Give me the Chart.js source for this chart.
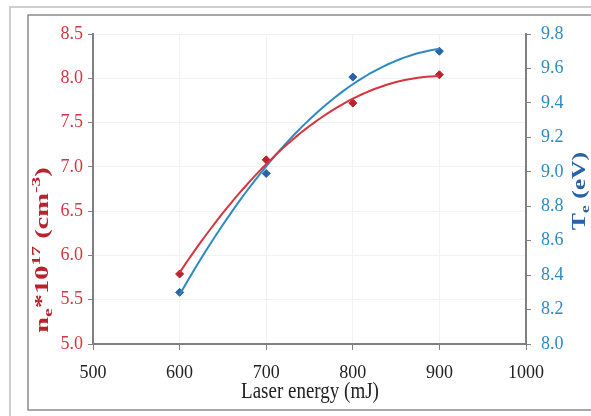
<!DOCTYPE html>
<html>
<head>
<meta charset="utf-8">
<script src="https://cdn.jsdelivr.net/npm/chart.js@4.4.1/dist/chart.umd.min.js"></script>
<style>
  html, body { margin: 0; padding: 0; background: #fff; }
  #wrap { width: 591px; height: 416px; }
</style>
</head>
<body>
<div id="wrap"><canvas id="plasmaChart" width="591" height="416"></canvas></div>
<script>
// laser energy (mJ) vs electron density and electron temperature
const energy = [600, 700, 800, 900];
const density = [5.79, 7.08, 7.72, 8.04];      // n_e * 10^17 cm^-3
const temperature = [8.30, 8.99, 9.55, 9.70];  // T_e (eV)

const densityTicks = [5.0, 5.5, 6.0, 6.5, 7.0, 7.5, 8.0, 8.5];
const tempTicks = [8.0, 8.2, 8.4, 8.6, 8.8, 9.0, 9.2, 9.4, 9.6, 9.8];
const energyTicks = [500, 600, 700, 800, 900, 1000];

const RED = '#d8343f';
const RED_DARK = '#b8232c';
const BLUE = '#2e8ac2';
const BLUE_DARK = '#2a62a8';
const SERIF = '"Liberation Serif", "Times New Roman", serif';

// 2nd order polynomial trendline (least squares), x centred for stability
function quadFit(xs, ys) {
    const u = xs.map(x => (x - 750) / 100);
    let s = [0, 0, 0, 0, 0], t = [0, 0, 0];
    u.forEach((v, i) => {
        for (let k = 0; k < 5; k++) s[k] += Math.pow(v, k);
        for (let k = 0; k < 3; k++) t[k] += ys[i] * Math.pow(v, k);
    });
    const A = [[s[0], s[1], s[2]], [s[1], s[2], s[3]], [s[2], s[3], s[4]]];
    const det = m => m[0][0] * (m[1][1] * m[2][2] - m[1][2] * m[2][1])
        - m[0][1] * (m[1][0] * m[2][2] - m[1][2] * m[2][0])
        + m[0][2] * (m[1][0] * m[2][1] - m[1][1] * m[2][0]);
    const D = det(A);
    const c = [0, 1, 2].map(j => det(A.map((row, i) => row.map((v, k) => k === j ? t[i] : v))) / D);
    return x => { const v = (x - 750) / 100; return c[0] + c[1] * v + c[2] * v * v; };
}

function trendPoints(ys) {
    const f = quadFit(energy, ys);
    const pts = [];
    for (let x = energy[0]; x <= energy[energy.length - 1]; x += 5) pts.push({ x: x, y: f(x) });
    return pts;
}

const toXY = ys => energy.map((x, i) => ({ x: x, y: ys[i] }));

// text with sub/superscripts, optionally rotated and stretched along its baseline
function drawRich(ctx, parts, cx, cy, opt) {
    const big = opt.size, small = Math.round(opt.size * 0.68);
    const font = s => (opt.bold ? 'bold ' : '') + s + 'px ' + SERIF;
    let w = 0;
    parts.forEach(p => { ctx.font = font(p[1] ? small : big); w += ctx.measureText(p[0]).width; });
    ctx.save();
    ctx.translate(cx, cy);
    ctx.rotate(opt.rot || 0);
    ctx.scale(opt.stretch || 1, opt.vstretch || 1);
    ctx.fillStyle = opt.color;
    ctx.textBaseline = 'middle';
    ctx.textAlign = 'left';
    let x = -w / 2;
    parts.forEach(p => {
        ctx.font = font(p[1] ? small : big);
        const dy = p[1] === 'sub' ? big * 0.28 : p[1] === 'sup' ? -big * 0.32 : 0;
        ctx.fillText(p[0], x, dy);
        x += ctx.measureText(p[0]).width;
    });
    ctx.restore();
}

const framePlugin = {
    id: 'frame',
    beforeDraw(chart) {
        const ctx = chart.ctx;
        ctx.save();
        ctx.fillStyle = '#fff';
        ctx.fillRect(0, 0, chart.width, chart.height);
        ctx.strokeStyle = '#cfcfcf';
        ctx.lineWidth = 2;
        ctx.strokeRect(10, 7, 600, 420);
        ctx.strokeStyle = '#8c8c8c';
        ctx.lineWidth = 1.5;
        ctx.strokeRect(28, 15, 600, 395);
        ctx.restore();
    },
    afterDraw(chart) {
        const ctx = chart.ctx;
        drawRich(ctx, [['n'], ['e', 'sub'], ['*10'], ['17', 'sup'], [' (cm'], ['-3', 'sup'], [')']],
            43, 250, { size: 19, bold: true, rot: -Math.PI / 2, stretch: 1.5, color: RED_DARK });
        drawRich(ctx, [['T'], ['e', 'sub'], [' (eV)']],
            580, 191, { size: 19, bold: true, rot: -Math.PI / 2, stretch: 1.35, color: BLUE_DARK });
        drawRich(ctx, [['Laser energy (mJ)']],
            310, 392, { size: 19, vstretch: 1.2, color: '#222' });
    }
};

const ctx = document.getElementById('plasmaChart').getContext('2d');
const plasmaChart = new Chart(ctx, {
    type: 'scatter',
    data: {
        datasets: [
            {
                label: 'n_e fit',
                data: trendPoints(density),
                yAxisID: 'y',
                showLine: true,
                borderColor: RED,
                borderWidth: 2,
                pointRadius: 0
            },
            {
                label: 'T_e fit',
                data: trendPoints(temperature),
                yAxisID: 'y2',
                showLine: true,
                borderColor: BLUE,
                borderWidth: 2,
                pointRadius: 0
            },
            {
                label: 'n_e',
                data: toXY(density),
                yAxisID: 'y',
                pointStyle: 'rectRot',
                pointRadius: 4,
                backgroundColor: RED_DARK,
                borderColor: RED_DARK
            },
            {
                label: 'T_e',
                data: toXY(temperature),
                yAxisID: 'y2',
                pointStyle: 'rectRot',
                pointRadius: 4,
                backgroundColor: BLUE_DARK,
                borderColor: BLUE_DARK
            }
        ]
    },
    options: {
        responsive: false,
        animation: false,
        devicePixelRatio: 1,
        layout: { padding: { top: 34, left: 0, right: 0, bottom: 0 } },
        plugins: { legend: { display: false }, tooltip: { enabled: false } },
        scales: {
            x: {
                type: 'linear',
                position: 'bottom',
                min: energyTicks[0],
                max: energyTicks[energyTicks.length - 1],
                afterBuildTicks: s => { s.ticks = energyTicks.map(v => ({ value: v })); },
                afterFit: s => { s.height = 72; },
                ticks: { color: '#222', font: { family: SERIF, size: 18 }, padding: 12, maxRotation: 0, callback: v => String(v) },
                grid: { color: '#f2f2f2', tickColor: '#808080', tickLength: 6 },
                border: { color: '#808080', width: 2 }
            },
            y: {
                position: 'left',
                min: densityTicks[0],
                max: densityTicks[densityTicks.length - 1],
                afterBuildTicks: s => { s.ticks = densityTicks.map(v => ({ value: v })); },
                afterFit: s => { s.width = 93; },
                ticks: { color: RED, font: { family: SERIF, size: 18 }, padding: 5, callback: v => v.toFixed(1) },
                grid: { color: '#f2f2f2', tickColor: '#808080', tickLength: 5 },
                border: { color: '#808080', width: 2 }
            },
            y2: {
                position: 'right',
                min: tempTicks[0],
                max: tempTicks[tempTicks.length - 1],
                afterBuildTicks: s => { s.ticks = tempTicks.map(v => ({ value: v })); },
                afterFit: s => { s.width = 65; },
                ticks: { color: BLUE, font: { family: SERIF, size: 18 }, padding: 10, callback: v => v.toFixed(1) },
                grid: { drawOnChartArea: false, tickColor: '#808080', tickLength: 5 },
                border: { color: '#808080', width: 2 }
            }
        }
    },
    plugins: [framePlugin]
});
</script>
</body>
</html>
